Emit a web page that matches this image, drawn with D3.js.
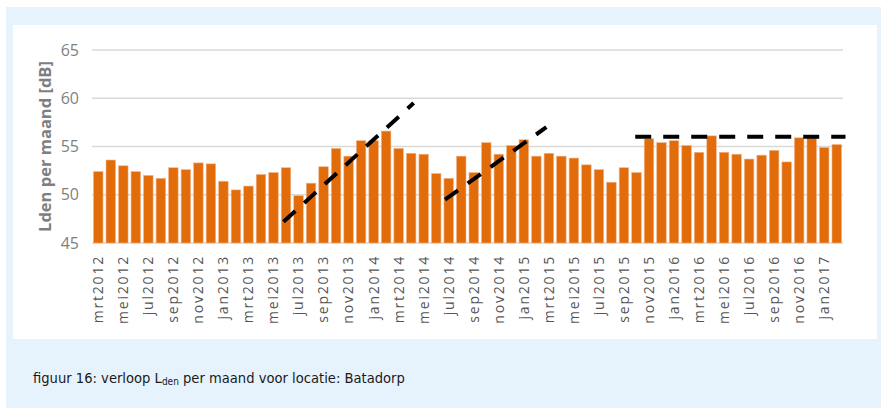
<!DOCTYPE html>
<html>
<head>
<meta charset="utf-8">
<script src="https://cdn.jsdelivr.net/npm/d3@7"></script>
<style>
  body { margin: 0; background: #fff; }
  svg { display: block; }
</style>
</head>
<body>
<svg id="chart" width="881" height="409"></svg>
<script>
// months mrt2012 .. feb2017
var months = ["mrt","apr","mei","jun","jul","aug","sep","okt","nov","dec","jan","feb"];
var startYear = 2012;

var lden = [
  52.4, 53.6, 53.0, 52.4, 52.0, 51.7, 52.8, 52.6, 53.3, 53.2, 51.4, 50.5,
  50.9, 52.1, 52.3, 52.8, 49.9, 51.2, 52.9, 54.8, 54.0, 55.6, 55.6, 56.6,
  54.8, 54.3, 54.2, 52.2, 51.7, 54.0, 52.3, 55.4, 54.2, 55.1, 55.7, 54.0,
  54.3, 54.0, 53.8, 53.1, 52.6, 51.3, 52.8, 52.3, 55.8, 55.4, 55.6, 55.1,
  54.4, 56.1, 54.4, 54.2, 53.7, 54.1, 54.6, 53.4, 55.9, 55.9, 54.9, 55.2
];

var yTicks = [45, 50, 55, 60, 65];

// hand drawn trend lines, x in bar units, y in dB
var trend1 = [[15.3, 47.2], [25.7, 59.5]];
var trend2 = [[28.2, 49.5], [36.3, 57.0]];
var trend3 = [[43.4, 56.0], [60.2, 56.0]];

var labels = lden.map(function(d, i) {
  var m = i % 12;
  var yr = startYear + Math.floor((i + 2) / 12);
  return months[m] + yr;
});

var svg = d3.select("#chart");

// background panels
svg.append("rect").attr("x", 6).attr("y", 7).attr("width", 875).attr("height", 401).attr("fill", "#e6f3fd");
svg.append("rect").attr("x", 13).attr("y", 25).attr("width", 864).attr("height", 314).attr("fill", "#ffffff");

var plotLeft = 92, plotRight = 843, plotTop = 50, plotBottom = 243;

var x = d3.scaleBand().domain(labels).range([plotLeft, plotRight]).paddingInner(0.24).paddingOuter(0.12);
var xLin = d3.scaleLinear().domain([0, labels.length]).range([plotLeft, plotRight]);
var y = d3.scaleLinear().domain([45, 65]).range([plotBottom, plotTop]);

// gridlines
svg.append("g").selectAll("line")
  .data(yTicks)
  .join("line")
  .attr("x1", plotLeft).attr("x2", plotRight)
  .attr("y1", function(d) { return y(d); })
  .attr("y2", function(d) { return y(d); })
  .attr("stroke", "#d9d9d9")
  .attr("stroke-width", 1.5);

// y tick labels
svg.append("g").selectAll("text")
  .data(yTicks)
  .join("text")
  .attr("x", 79)
  .attr("y", function(d) { return y(d); })
  .attr("dy", "0.35em")
  .attr("text-anchor", "end")
  .attr("font-family", "Open Sans, sans-serif")
  .attr("font-size", 16)
  .attr("fill", "#7f7f7f")
  .text(function(d) { return d; });

// y title
svg.append("text")
  .attr("transform", "translate(51," + (plotBottom + plotTop) / 2 + ") rotate(-90)")
  .attr("text-anchor", "middle")
  .attr("font-family", "Open Sans, sans-serif")
  .attr("font-size", 16.5)
  .attr("font-weight", "bold")
  .attr("fill", "#7f7f7f")
  .text("Lden per maand [dB]");

// bars
svg.append("g").selectAll("rect")
  .data(lden)
  .join("rect")
  .attr("x", function(d, i) { return x(labels[i]); })
  .attr("y", function(d) { return y(d); })
  .attr("width", x.bandwidth())
  .attr("height", function(d) { return y(45) - y(d); })
  .attr("fill", "#e36c0a")
  .attr("stroke", "#f2b48a")
  .attr("stroke-width", 0.6);

// x labels every other month
svg.append("g").selectAll("text")
  .data(labels.filter(function(d, i) { return i % 2 == 0; }))
  .join("text")
  .attr("transform", function(d) {
    return "translate(" + (x(d) + x.bandwidth() / 2) + ",255) rotate(-90)";
  })
  .attr("text-anchor", "end")
  .attr("dy", "0.35em")
  .attr("font-family", "Open Sans, sans-serif")
  .attr("font-size", 14)
  .attr("letter-spacing", "1.8px")
  .attr("fill", "#555555")
  .text(function(d) { return d; });

// trend lines
var line = d3.line()
  .x(function(d) { return xLin(d[0]); })
  .y(function(d) { return y(d[1]); });

[trend1, trend2, trend3].forEach(function(t) {
  svg.append("path")
    .attr("d", line(t))
    .attr("fill", "none")
    .attr("stroke", "#000")
    .attr("stroke-width", 4)
    .attr("stroke-dasharray", "16,12");
});

// caption
var cap = svg.append("text")
  .attr("x", 33)
  .attr("y", 383)
  .attr("font-family", "DejaVu Sans Condensed, DejaVu Sans, sans-serif")
  .attr("font-size", 14.6)
  .attr("fill", "#1a1a1a");
cap.append("tspan").text("figuur 16: verloop L");
cap.append("tspan").attr("font-size", 10).attr("dy", 2).text("den");
cap.append("tspan").attr("dy", -2).text(" per maand voor locatie: Batadorp");
</script>
</body>
</html>
